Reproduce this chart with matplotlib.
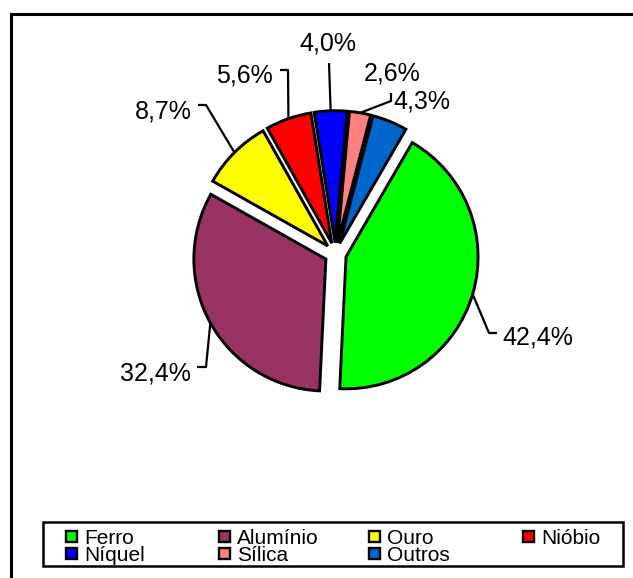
import matplotlib
matplotlib.use("Agg")
import matplotlib.pyplot as plt
from matplotlib.patches import Rectangle
import numpy as np

# Data
materials = ["Ferro", "Alumínio", "Ouro", "Nióbio", "Níquel", "Sílica", "Outros"]
shares = [42.4, 32.4, 8.7, 5.6, 4.0, 2.6, 4.3]
value_labels = ["42,4%", "32,4%", "8,7%", "5,6%", "4,0%", "2,6%", "4,3%"]
slice_colors = ["#00FF00", "#993366", "#FFFF00", "#FF0000", "#0000FF", "#FF8080", "#0066CC"]

W, H = 633, 578
plt.rcParams['font.family'] = ['Liberation Sans', 'DejaVu Sans']
label_font = ['Liberation Sans Narrow', 'Liberation Sans', 'DejaVu Sans']

fig = plt.figure(figsize=(W / 100, H / 100), dpi=100)
ax = fig.add_axes([0, 0, 1, 1])

# Pie drawn in pixel units (y up)
def py(y):
    return H - y

# explode is in data units here (pixels)
wedges, _ = ax.pie(shares, colors=slice_colors, startangle=59.9, counterclock=False,
                   explode=[11] * len(shares), radius=132, center=(335.5, py(253.7)),
                   wedgeprops=dict(edgecolor="black", linewidth=2.1), frame=True)

ax.set_xlim(0, W)
ax.set_ylim(0, H)
ax.set_aspect("equal")
ax.axis("off")

# Label layout (pixels, y down): elbow points of leader, text anchor, alignment
label_layout = [
    ([(489, 333), (497, 333)], (502, 345), "left"),
    ([(206, 367), (197, 367)], (191, 381), "right"),
    ([(206, 105), (198, 105)], (192, 119), "right"),
    ([(288, 70), (280, 70)], (273, 82), "right"),
    ([(329, 63)], (328, 51), "center"),
    ([(391, 101), (391, 93)], (392, 81), "center"),
    (None, (393, 108), "left"),
]

for wedge, text, (elbows, (tx, ty), ha) in zip(wedges, value_labels, label_layout):
    mid = np.deg2rad((wedge.theta1 + wedge.theta2) / 2)
    cx, cy = wedge.center
    sx, sy = cx + wedge.r * np.cos(mid), cy + wedge.r * np.sin(mid)
    if elbows is not None:
        xs = [sx] + [e[0] for e in elbows]
        ys = [sy] + [py(e[1]) for e in elbows]
        ax.plot(xs, ys, color="black", linewidth=1.6, solid_capstyle="butt")
    ax.text(tx, py(ty), text, ha=ha, va="baseline", fontsize=18, family=label_font)

# Outer chart frame (only left and top visible)
ax.add_patch(Rectangle((11, -30), 700, py(14) + 30, fill=False, edgecolor="black", linewidth=2.2))

# Legend box
ax.add_patch(Rectangle((43, py(566)), 580, 44, fill=False, edgecolor="black", linewidth=1.8))
col_x = [66, 219, 369, 523]
row_base = [544, 561]
for i, (name, color) in enumerate(zip(materials, slice_colors)):
    mx = col_x[i % 4]
    base = row_base[i // 4]
    ax.add_patch(Rectangle((mx, py(base - 2)), 11, 11, facecolor=color, edgecolor="black", linewidth=1.7))
    ax.text(mx + 18, py(base), name, ha="left", va="baseline", fontsize=15, family=label_font)

fig.savefig("out.png", dpi=100)
